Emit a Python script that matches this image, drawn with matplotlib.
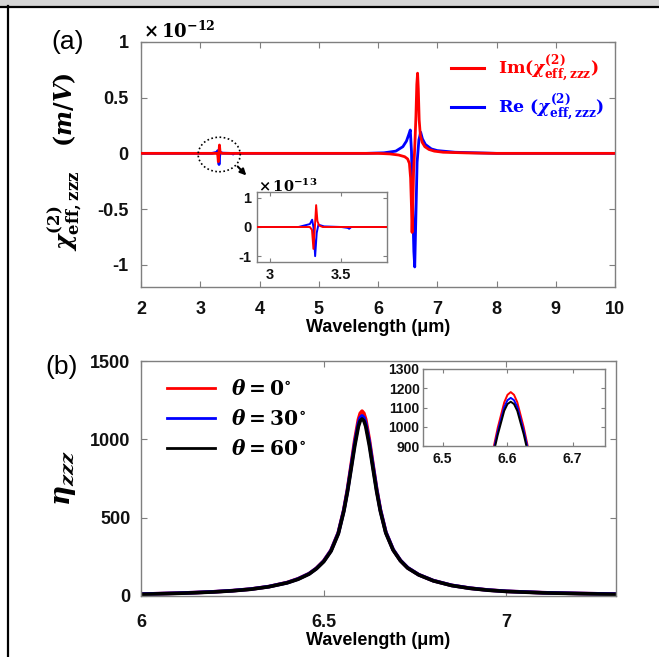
import numpy as np
import matplotlib
matplotlib.use('Agg')
import matplotlib.pyplot as plt
from matplotlib.patches import Ellipse, Rectangle
from matplotlib.lines import Line2D
from matplotlib.ticker import FormatStrFormatter

plt.rcParams['font.family'] = ['Liberation Sans', 'DejaVu Sans']
plt.rcParams['font.weight'] = 'bold'
plt.rcParams['axes.unicode_minus'] = False
plt.rcParams['mathtext.fontset'] = 'custom'
plt.rcParams['mathtext.rm'] = 'DejaVu Serif:bold'
plt.rcParams['mathtext.it'] = 'DejaVu Serif:italic:bold'
plt.rcParams['mathtext.bf'] = 'DejaVu Serif:bold'

# ---------------- data (a): chi_eff,zzz in units of 1e-12 m/V ----------------
im_x = [2.0, 3.28, 3.295, 3.305, 3.314, 3.324, 3.333, 3.345, 3.37, 6.0, 6.2, 6.35,
        6.45, 6.50, 6.53, 6.55, 6.565, 6.575, 6.585, 6.60, 6.62, 6.64, 6.655, 6.668,
        6.68, 6.695, 6.715, 6.745, 6.79, 6.86, 6.95, 7.1, 7.5, 8.0, 10.0]
im_y = [0, 0, -0.01, -0.075, -0.01, 0.075, 0.02, 0.005, 0, 0, -0.005, -0.015,
        -0.03, -0.05, -0.09, -0.22, -0.48, -0.71, -0.52, -0.17, 0.05, 0.33, 0.62, 0.72,
        0.58, 0.3, 0.16, 0.1, 0.06, 0.035, 0.02, 0.01, 0.004, 0, 0]

re_x = [2.0, 3.2, 3.28, 3.296, 3.305, 3.317, 3.328, 3.34, 3.38, 3.5, 3.545, 3.555,
        3.57, 5.8, 6.1, 6.3, 6.42, 6.48, 6.52, 6.545, 6.565, 6.585, 6.605, 6.62,
        6.64, 6.66, 6.69, 6.72, 6.75, 6.8, 6.9, 7.0, 7.3, 8.0, 10.0]
re_y = [0, 0, 0.01, 0.025, 0.0, -0.1, -0.02, 0.008, 0.002, 0, -0.003, -0.006,
        0, 0, 0.005, 0.02, 0.06, 0.11, 0.17, 0.21, 0.02, -0.45, -0.88, -1.02,
        -0.55, -0.08, 0.12, 0.19, 0.13, 0.08, 0.04, 0.025, 0.01, 0, 0]

# ---------------- data (b): eta_zzz for three angles ----------------
eta_x = [6.00, 6.05, 6.10, 6.15, 6.20, 6.25, 6.30, 6.35, 6.40, 6.43, 6.46, 6.48,
         6.50, 6.52, 6.54, 6.555, 6.565, 6.575, 6.585, 6.595, 6.60, 6.605, 6.61,
         6.615, 6.625, 6.635, 6.645, 6.655, 6.67, 6.69, 6.71, 6.73, 6.76, 6.80,
         6.85, 6.90, 6.95, 7.00, 7.10, 7.20, 7.30]
eta_0 = [12, 15, 18, 22, 27, 34, 44, 60, 86, 110, 143, 177,
         224, 292, 405, 550, 680, 835, 995, 1127, 1166, 1180, 1166,
         1128, 997, 838, 684, 553, 408, 296, 227, 180, 136, 98,
         68, 50, 38, 30, 21, 16, 12]
eta_30 = [12, 15, 18, 22, 27, 34, 44, 60, 85, 109, 142, 176,
          222, 290, 402, 546, 672, 822, 975, 1102, 1138, 1150, 1138,
          1103, 979, 828, 678, 550, 407, 296, 227, 180, 136, 98,
          68, 50, 38, 30, 21, 16, 12]
eta_60 = [11, 14, 17, 21, 26, 33, 43, 59, 84, 107, 140, 174,
          219, 286, 397, 540, 664, 810, 958, 1083, 1118, 1130, 1118,
          1083, 960, 812, 666, 542, 402, 293, 225, 178, 135, 97,
          67, 49, 37, 29, 20, 15, 11]
angle_labels = [r'$\theta = 0^{\circ}$', r'$\theta = 30^{\circ}$', r'$\theta = 60^{\circ}$']
angle_colors = ['#ff0000', '#0000ff', '#000000']

W, H = 659, 657
fig = plt.figure(figsize=(W / 100, H / 100), dpi=100)

def rect(l, t, r, b):
    return [l / W, 1 - b / H, (r - l) / W, (b - t) / H]

SP = '#7f7f7f'

def style(ax, fs, padx, pady, length=4):
    for s in ax.spines.values():
        s.set_color(SP)
        s.set_linewidth(1.0)
    ax.tick_params(direction='in', top=True, right=True, length=length, width=0.8,
                   color=SP, labelsize=fs, labelcolor='#111111')
    ax.tick_params(axis='x', pad=padx)
    ax.tick_params(axis='y', pad=pady)

# frame of the screenshot
fig.patches.append(Rectangle((0, 1 - 5 / H), 1, 5 / H, transform=fig.transFigure,
                             color='#d4d4d4', zorder=0))
fig.lines.append(Line2D([0, 1], [1 - 6.5 / H] * 2, transform=fig.transFigure,
                        color='black', lw=1.6))
fig.lines.append(Line2D([7.5 / W] * 2, [0, 1 - 6 / H], transform=fig.transFigure,
                        color='black', lw=1.6))

# ---------------- panel (a) ----------------
axa = fig.add_axes(rect(141, 42, 615, 287))
axa.plot(im_x, im_y, color='#ff0000', lw=2.0, zorder=3,
         label=r'$\mathrm{Im}(\chi^{(2)}_{\mathrm{eff,zzz}})$')
axa.plot(re_x, re_y, color='#0000ff', lw=2.0, zorder=2,
         label=r'$\mathrm{Re}\ (\chi^{(2)}_{\mathrm{eff,zzz}})$')
axa.set_xlim(2, 10)
axa.set_ylim(-1.2, 1)
axa.set_xticks(range(2, 11))
axa.set_yticks([-1, -0.5, 0, 0.5, 1])
axa.yaxis.set_major_formatter(FormatStrFormatter('%g'))
style(axa, 13, 10, 9)
axa.set_xlabel('Wavelength (\u03bcm)', fontsize=13, fontweight='bold')
axa.xaxis.set_label_coords(0.5, -0.13)
axa.set_ylabel(r'$\chi^{(2)}_{\mathrm{eff,zzz}}\ \ \ (m/V)$', fontsize=17)
axa.yaxis.set_label_coords(-0.12, 0.51)
leg = axa.legend(loc='upper left', bbox_to_anchor=(0.655, 0.955), frameon=False,
                 fontsize=12.5, handlelength=1.9, handletextpad=0.8,
                 labelspacing=0.5, borderaxespad=0, borderpad=0,
                 labelcolor='linecolor')
for h in leg.legend_handles:
    h.set_linewidth(2.2)
axa.add_patch(Ellipse((3.32, -0.01), 0.71, 0.31, fill=False, ls=(0, (1, 1.5)),
                      lw=1.2, color='black', zorder=4))
axa.annotate('', xy=(3.81, -0.216), xytext=(3.6, -0.1),
             arrowprops=dict(arrowstyle='-|>', color='black', lw=1.5,
                             mutation_scale=9))
fig.text(143 / W, 1 - 31 / H, r'$\times\,\mathbf{10}^{-12}$', fontsize=13,
         va='center', ha='left')
fig.text(68 / W, 1 - 42 / H, '(a)', fontsize=19, fontweight='normal',
         ha='center', va='center')

# inset (a)
axi = fig.add_axes(rect(257, 192, 387, 262))
axi.plot(re_x, [v * 10 for v in re_y], color='#0000ff', lw=1.4, zorder=2)
axi.plot(im_x, [v * 10 for v in im_y], color='#ff0000', lw=1.4, zorder=3)
axi.set_xlim(2.91, 3.82)
axi.set_ylim(-1.2, 1.2)
axi.set_xticks([3, 3.5])
axi.set_yticks([-1, 0, 1])
axi.xaxis.set_major_formatter(FormatStrFormatter('%g'))
style(axi, 10.5, 4, 4, length=3)
fig.text(258 / W, 1 - 186 / H, r'$\times\,\mathbf{10}^{-13}$', fontsize=10.5,
         va='center', ha='left')

# ---------------- panel (b) ----------------
axb = fig.add_axes(rect(141, 361, 616, 596))
for ys, lab, c in zip([eta_0, eta_30, eta_60], angle_labels, angle_colors):
    axb.plot(eta_x, ys, color=c, lw=2.6, label=lab)
axb.set_xlim(6, 7.3)
axb.set_ylim(0, 1500)
axb.set_xticks([6, 6.5, 7])
axb.set_yticks([0, 500, 1000, 1500])
axb.xaxis.set_major_formatter(FormatStrFormatter('%g'))
style(axb, 13, 13, 7.5)
axb.set_xlabel('Wavelength (\u03bcm)', fontsize=13, fontweight='bold')
axb.xaxis.set_label_coords(0.5, -0.155)
axb.set_ylabel(r'$\eta_{zzz}$', fontsize=20)
axb.yaxis.set_label_coords(-0.133, 0.502)
legb = axb.legend(loc='upper left', bbox_to_anchor=(0.055, 0.925), frameon=False,
                  fontsize=14.5, handlelength=2.4, handletextpad=0.75,
                  labelspacing=0.5, borderaxespad=0, borderpad=0)
for h in legb.legend_handles:
    h.set_linewidth(2.0)
fig.text(62 / W, 1 - 367 / H, '(b)', fontsize=19, fontweight='normal',
         ha='center', va='center')

# inset (b)
axj = fig.add_axes(rect(423, 369, 605, 446))
for ys, c in zip([eta_0, eta_30, eta_60], angle_colors):
    axj.plot(eta_x, ys, color=c, lw=1.4)
axj.set_xlim(6.47, 6.75)
axj.set_ylim(900, 1300)
axj.set_xticks([6.5, 6.6, 6.7])
axj.set_yticks([900, 1000, 1100, 1200, 1300])
axj.xaxis.set_major_formatter(FormatStrFormatter('%g'))
style(axj, 10, 4, 2.5, length=3)

fig.savefig('out.png', dpi=100)
